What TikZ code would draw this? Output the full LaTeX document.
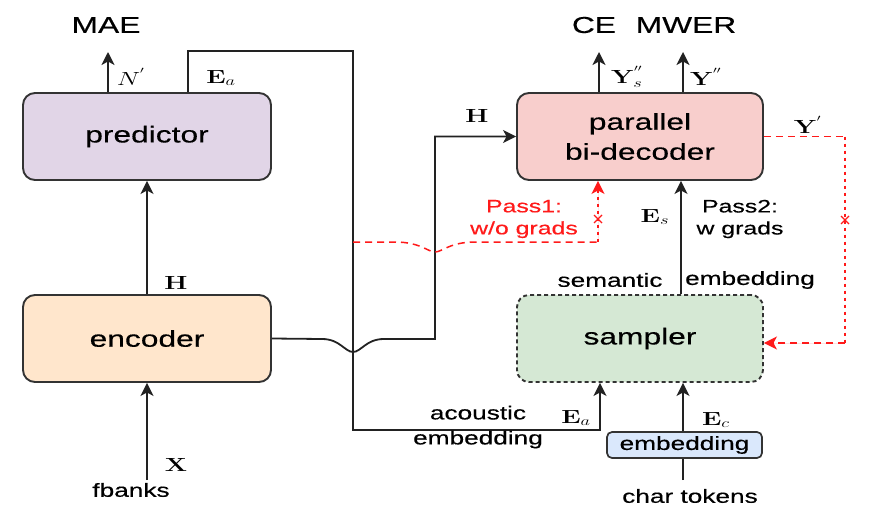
\RequirePackage{fix-cm}
\documentclass[tikz,border=0pt]{standalone}
\usepackage[no-math]{fontspec}
\setmainfont[FakeStretch=1.38,FakeBold=0.4]{Liberation Sans}
\usepackage{graphicx}
\usetikzlibrary{arrows.meta}
\definecolor{cpred}{HTML}{E1D5E7}
\definecolor{cenc}{HTML}{FFE6CC}
\definecolor{cdec}{HTML}{F8CECC}
\definecolor{csam}{HTML}{D5E8D4}
\definecolor{cemb}{HTML}{DAE8FC}
\definecolor{boxc}{HTML}{333333}
\definecolor{linec}{HTML}{222222}
\definecolor{redc}{HTML}{FF1A1A}
\newcommand{\mlab}[1]{\scalebox{1.38}[1]{$#1$}}
\tikzset{
  blk/.style={draw=boxc, line width=1.9pt, rounded corners=12pt, minimum width=248pt,
    minimum height=87pt, font=\fontsize{23}{30}\selectfont, align=center, inner sep=0pt},
  lbl/.style={font=\fontsize{19}{23}\selectfont, inner sep=0pt, align=center, text=black},
  ttl/.style={font=\fontsize{23}{26}\selectfont, inner sep=0pt},
  mth/.style={font=\fontsize{19}{22}\selectfont, inner sep=0pt},
  conn/.style={line width=1.8pt, draw=linec},
  arr/.style={conn, -{Stealth[length=13pt,width=13pt,inset=3.5pt]}},
  reddash/.style={line width=1.5pt, draw=redc, dash pattern=on 7pt off 5pt},
  reddot/.style={line width=1.5pt, draw=redc, dash pattern=on 3.5pt off 3.5pt},
  redarr/.style={-{Stealth[length=13pt,width=13pt,inset=3.5pt]}, fill=redc},
}
\begin{document}
\begin{tikzpicture}[x=1pt,y=-1pt]
\useasboundingbox (0,0) rectangle (876,522);
% boxes
\node[blk, fill=cpred] (pred) at (147,136.5) {predictor};
\node[blk, fill=cenc] (enc) at (147,338.5) {encoder};
\node[blk, fill=cdec, minimum width=246pt] (dec) at (640,136.5) {parallel\\bi-decoder};
\node[blk, fill=csam, minimum width=246pt, dash pattern=on 4pt off 3pt] (sam) at (640,338.5) {sampler};
\node[draw=boxc, line width=1.7pt, rounded corners=5pt, fill=cemb, minimum width=155pt,
  minimum height=26pt, inner sep=0pt, font=\fontsize{19}{22}\selectfont] (emb) at (684.5,445) {embedding};
% titles
\node[ttl] (mae) at (106,25) {MAE};
\node[ttl] (ce) at (594,25) {CE};
\node[ttl] (mwer) at (686,25) {MWER};
\node[lbl] (fb) at (131,490) {fbanks};
\node[lbl] (ct) at (690,496) {char tokens};
% coordinates
\coordinate (nout) at (108,52);
\coordinate (ea1) at (188,51);
\coordinate (ea2) at (353,51);
\coordinate (ea3) at (353,430);
\coordinate (xin) at (147,480);
\coordinate (ysout) at (599,52);
\coordinate (yout) at (683,52);
\coordinate (sx) at (681,0);
\coordinate (cx) at (683,480);
\coordinate (rs) at (353,242);
\coordinate (p1) at (598,242);
\coordinate (yr1) at (845,136.5);
\coordinate (yr2) at (845,343);
% black connectors
\draw[arr] (pred.north -| nout) -- (nout);
\draw[arr] (enc.north) -- (pred.south);
\draw[arr] (xin) -- (enc.south);
\draw[arr] (pred.north -| ea1) -- (ea1) -- (ea2) -- (ea3) -| ([xshift=-40pt]sam.south);
\draw[arr] (enc.east) -- (322,339) .. controls (340,339) and (345,352) .. (353,352)
  .. controls (361,352) and (366,339) .. (384,339) -- (435,339) |- (dec.west);
\draw[arr] (dec.north -| ysout) -- (ysout);
\draw[arr] (dec.north -| yout) -- (yout);
\draw[arr] (sam.north -| sx) -- (dec.south -| sx);
\draw[arr] (emb.north -| cx) -- (sam.south -| cx);
\draw[conn] (cx) -- (emb.south -| cx);
% red connectors
\draw[reddash] (rs) -- (395,242) .. controls (420,242) and (428,252) .. (435,252)
  .. controls (442,252) and (450,242) .. (475,242) -- (p1);
\draw[reddot, redarr] (p1) -- (dec.south -| p1);
\draw[reddash] (dec.east |- yr1) -- (yr1);
\draw[reddot] (yr1) -- (yr2);
\draw[reddash, redarr] (yr2) -- ([yshift=-4.5pt]sam.east);
\draw[redc, line width=1.3pt] (594,215) -- (602,223) (594,223) -- (602,215);
\draw[redc, line width=1.3pt] (841,216) -- (849,224) (841,224) -- (849,216);
% labels
\node[mth] (ln) at (131,77) {\mlab{N^{'}}};
\node[mth] (lea) at (221,78) {\mlab{\mathbf{E}_a}};
\node[mth] (lh) at (176,283) {\mlab{\mathbf{H}}};
\node[mth] (lx) at (176,465) {\mlab{\mathbf{X}}};
\node[mth] (lys) at (627,77) {\mlab{\mathbf{Y}^{''}_s}};
\node[mth] (ly) at (706,77) {\mlab{\mathbf{Y}^{''}}};
\node[mth] (lh2) at (477,116) {\mlab{\mathbf{H}}};
\node[mth] (lyp) at (808,125) {\mlab{\mathbf{Y}^{'}}};
\node[mth] (les) at (655,217) {\mlab{\mathbf{E}_s}};
\node[mth] (lea2) at (576,418) {\mlab{\mathbf{E}_a}};
\node[mth] (lec) at (716,420) {\mlab{\mathbf{E}_c}};
\node[lbl, text=redc, font=\fontsize{18}{22}\selectfont] (pass1) at (524,219) {Pass1:\\w/o grads};
\node[lbl, font=\fontsize{18}{22}\selectfont] (pass2) at (740,219) {Pass2:\\w grads};
\node[lbl] (sem) at (610,280) {semantic};
\node[lbl] (semb) at (750,280) {embedding};
\node[lbl, font=\fontsize{19}{25}\selectfont] (ac) at (478,427) {acoustic\\embedding};
\end{tikzpicture}
\end{document}
